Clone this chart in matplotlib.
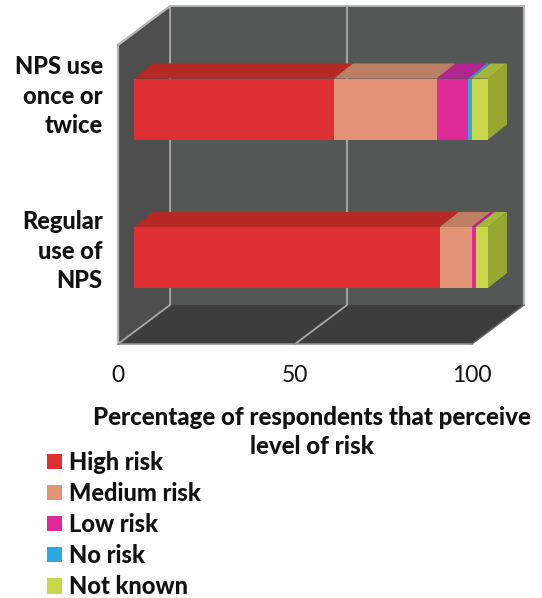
import matplotlib
matplotlib.use("Agg")
import matplotlib.pyplot as plt
from matplotlib.patches import Polygon, Patch
from matplotlib.transforms import ScaledTranslation

plt.rcParams['font.family'] = ['Lato', 'DejaVu Sans']

categories = ["Regular\nuse of\nNPS", "NPS use\nonce or\ntwice"]
risk_levels = ["High risk", "Medium risk", "Low risk", "No risk", "Not known"]
high_risk = [86.4, 56.5]
medium_risk = [9.0, 29.0]
low_risk = [1.1, 8.9]
no_risk = [0.0, 1.0]
not_known = [3.5, 4.6]
x_ticks = [0, 50, 100]

series = [high_risk, medium_risk, low_risk, no_risk, not_known]
front_colors = ["#de3033", "#e39376", "#de2a96", "#2aa8e0", "#c8d84a"]
top_colors = ["#b52823", "#bd7f63", "#b0258f", "#3f8fc0", "#a3b637"]
side_colors = ["#9e2420", "#a8705a", "#962080", "#30789f", "#97a832"]

W, H = 542, 598
fig = plt.figure(figsize=(W / 100, H / 100), dpi=100, facecolor="white")
ax = fig.add_axes([118 / W, (H - 344) / H, 354 / W, 299 / H])

# Category axis runs so that the two bars sit 148.5 px apart
row_px = 148.5
ax.set_xlim(0, 100)
ax.set_ylim(-86.5 / row_px, 1 + 64 / row_px)

px_x = 100 / 354
px_y = 1 / row_px
y0, y1 = ax.get_ylim()

# Oblique offsets of the box and of the bars, in data units
box_dx, box_dy = 52 * px_x, 39 * px_y
bar_x0 = 16 * px_x
bar_dx, bar_dy = 19 * px_x, 15 * px_y
bar_h = 61 * px_y


def poly(points, color, z):
    ax.add_patch(Polygon(points, closed=True, facecolor=color, edgecolor="none", zorder=z, clip_on=False))


def seg(xs, ys, color="#a9a9a9", lw=1.3, z=2):
    ax.plot(xs, ys, color=color, lw=lw, zorder=z, clip_on=False, solid_capstyle="round")


# Box: back wall, side wall and floor
poly([(box_dx, y0 + box_dy), (100 + box_dx, y0 + box_dy), (100 + box_dx, y1 + box_dy), (box_dx, y1 + box_dy)], "#555756", 1)
poly([(0, y0), (box_dx, y0 + box_dy), (box_dx, y1 + box_dy), (0, y1)], "#4e4e4e", 1)
poly([(0, y0), (100, y0), (100 + box_dx, y0 + box_dy), (box_dx, y0 + box_dy)], "#3d3d3d", 1)

# Gridlines fold from the back wall across the floor
for t in x_ticks[:-1]:
    seg([t + box_dx, t + box_dx, t], [y1 + box_dy, y0 + box_dy, y0])
seg([100 + box_dx, 100 + box_dx], [y0 + box_dy, y1 + box_dy], color="#b5b5b5", lw=1.6)
seg([box_dx, 100 + box_dx], [y1 + box_dy, y1 + box_dy], color="#b5b5b5", lw=1.4)
seg([0, box_dx], [y1, y1 + box_dy], color="#b5b5b5", lw=1.6)
seg([0, 0], [y0, y1], color="#b5b5b5", lw=1.6)
seg([0, 100], [y0, y0], color="#8f8f8f", lw=1.2)
seg([100, 100 + box_dx], [y0, y0 + box_dy], color="#6a6a6a", lw=1.0)

# Stacked bars with their top and end faces
for row in range(len(categories)):
    bottom = row - bar_h / 2
    top = row + bar_h / 2
    left = 0.0
    for k, values in enumerate(series):
        v = values[row]
        if v <= 0:
            continue
        a = bar_x0 + left
        b = a + v
        poly([(a, top), (b, top), (b + bar_dx, top + bar_dy), (a + bar_dx, top + bar_dy)], top_colors[k], 3)
        poly([(a, bottom), (b, bottom), (b, top), (a, top)], front_colors[k], 4)
        left += v
    end = bar_x0 + left
    poly([(end, bottom), (end + bar_dx, bottom + bar_dy), (end + bar_dx, top + bar_dy), (end, top)],
         side_colors[-1], 3)

for s in ax.spines.values():
    s.set_visible(False)
ax.patch.set_visible(False)

ax.set_xticks(x_ticks)
ax.set_xticklabels([str(t) for t in x_ticks], fontsize=16.5)
ax.tick_params(axis="x", length=0, pad=15, labelcolor="#111111")
ax.set_yticks(range(len(categories)))
ax.set_yticklabels(categories, fontsize=17, fontweight="black", ha="right", linespacing=1.32)
ax.tick_params(axis="y", length=0, pad=11, labelcolor="#111111")

# Category labels sit slightly above the centre of their bars
for label, lift_px in zip(ax.get_yticklabels(), [11.5, 18]):
    label.set_transform(label.get_transform() + ScaledTranslation(0, lift_px / 100, fig.dpi_scale_trans))

# Axis title: the second line is a separate text so the legend can tuck in beside it
ax.set_xlabel("Percentage of respondents that perceive", fontsize=17.3, fontweight="black",
              x=194 / 354, labelpad=14.5, color="#111111")
ax.text(194 / 354, -103 / 299, "level of risk", transform=ax.transAxes, fontsize=17.3, fontweight="black",
        ha="center", va="center", color="#111111")

handles = [Patch(facecolor=c, edgecolor="none", label=n) for c, n in zip(front_colors, risk_levels)]
fig.legend(handles=handles, loc="lower left", bbox_to_anchor=(47 / W, 0.0), frameon=False, ncol=1,
           borderaxespad=0, borderpad=0, prop={"family": "Lato", "weight": "black", "size": 17},
           handlelength=0.64, handleheight=0.64, handletextpad=0.28, labelspacing=0.34, labelcolor="#111111")

fig.savefig("out.png", dpi=100, facecolor="white")
